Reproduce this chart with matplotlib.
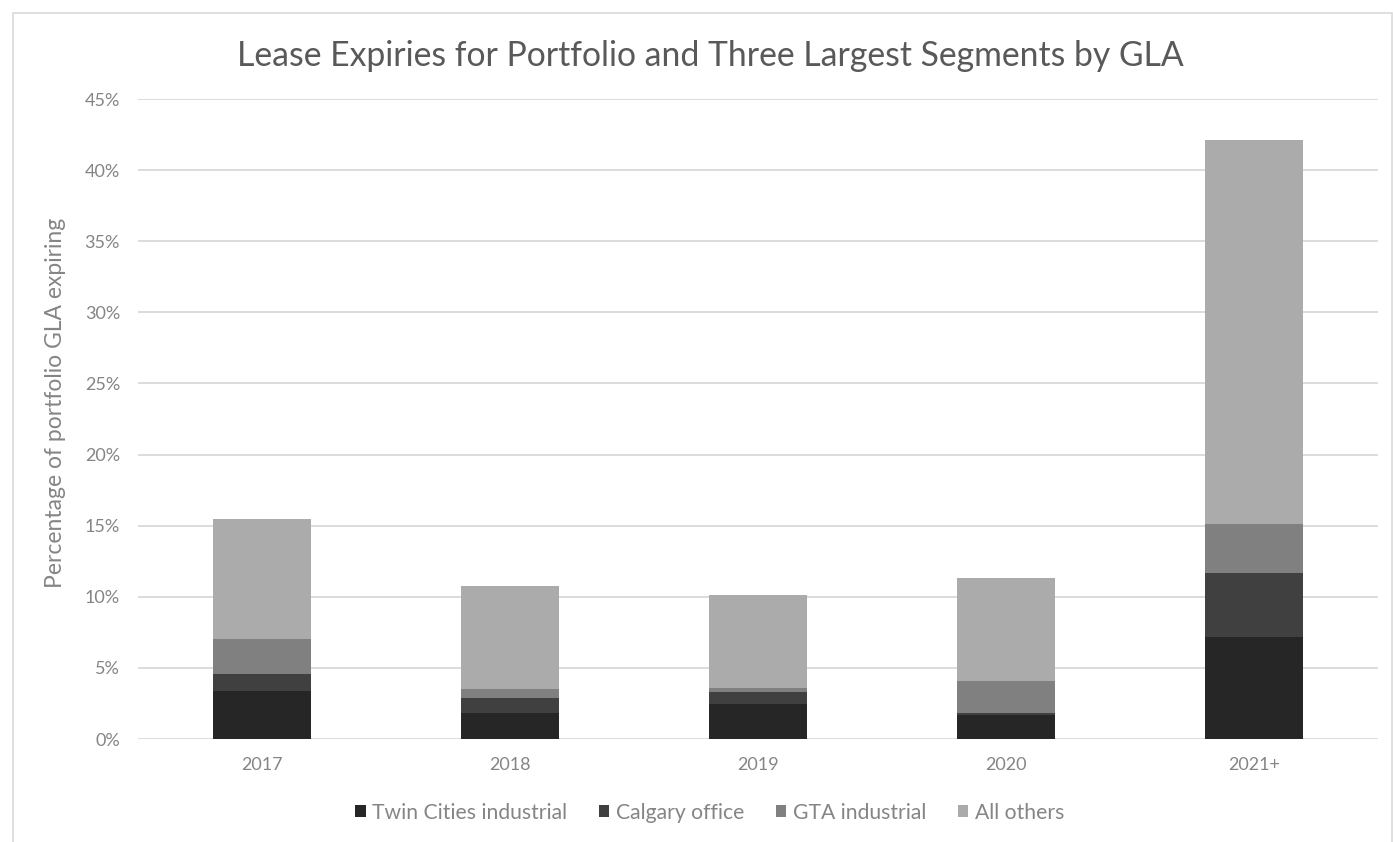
import numpy as np
import matplotlib.pyplot as plt
from matplotlib.patches import Rectangle

## Data (fractions of portfolio GLA)
years        = ["2017", "2018", "2019", "2020", "2021+"]
twin_cities  = [0.034, 0.018, 0.0245, 0.017, 0.0715]
calgary      = [0.012, 0.0105, 0.0085, 0.0015, 0.0455]
gta          = [0.024, 0.007, 0.003, 0.0225, 0.034]
all_others   = [0.085, 0.072, 0.0655, 0.072, 0.27]

series = [
    ("Twin Cities industrial", twin_cities, "#262626"),
    ("Calgary office",         calgary,     "#404040"),
    ("GTA industrial",         gta,         "#808080"),
    ("All others",             all_others,  "#ababab"),
]

plt.rcParams['font.family'] = ['Lato', 'DejaVu Sans']
text_col = "#858585"

fig = plt.figure(figsize=(13.93, 8.42), dpi=100)
ax = fig.add_axes([0.0991, 0.1223, 0.8899, 0.7601])

## Chart border
fig.patches.append(Rectangle((0.0093, -0.05), 0.99, 1.035, transform=fig.transFigure,
                             fill=False, edgecolor="#d9d9d9", linewidth=1.2))

x = np.arange(len(years))
bottom = np.zeros(len(years))
for name, vals, col in series:
    ax.bar(x, vals, width=0.395, bottom=bottom, color=col, label=name, zorder=3)
    bottom += np.array(vals)

ax.set_xlim(-0.5, len(years) - 0.5)
ax.set_ylim(0, 0.45)
ax.set_yticks(np.arange(0, 0.451, 0.05))
ax.set_yticklabels([f"{int(round(v * 100))}%" for v in np.arange(0, 0.451, 0.05)])
ax.set_xticks(x)
ax.set_xticklabels(years)

ax.grid(axis="y", color="#d9d9d9", linewidth=1.3, zorder=0)
for s in ["top", "right", "left", "bottom"]:
    ax.spines[s].set_visible(False)
ax.tick_params(axis="both", length=0, labelsize=13, labelcolor=text_col)
ax.tick_params(axis="x", pad=13)
ax.tick_params(axis="y", pad=13)

ax.set_ylabel("Percentage of portfolio GLA expiring", fontsize=16.5, color=text_col)
ax.yaxis.set_label_coords(-0.058, 0.525)

fig.text(0.5097, 0.933, "Lease Expiries for Portfolio and Three Largest Segments by GLA",
         ha="center", va="center", fontsize=24.3, color="#595959")

leg = ax.legend(loc="center", bbox_to_anchor=(0.461, -0.115), ncol=4, frameon=False,
                fontsize=15.2, handlelength=0.5, handleheight=0.5, handletextpad=0.3,
                columnspacing=1.5)
for t in leg.get_texts():
    t.set_color(text_col)

fig.savefig("out.png", dpi=100)
plt.close(fig)
